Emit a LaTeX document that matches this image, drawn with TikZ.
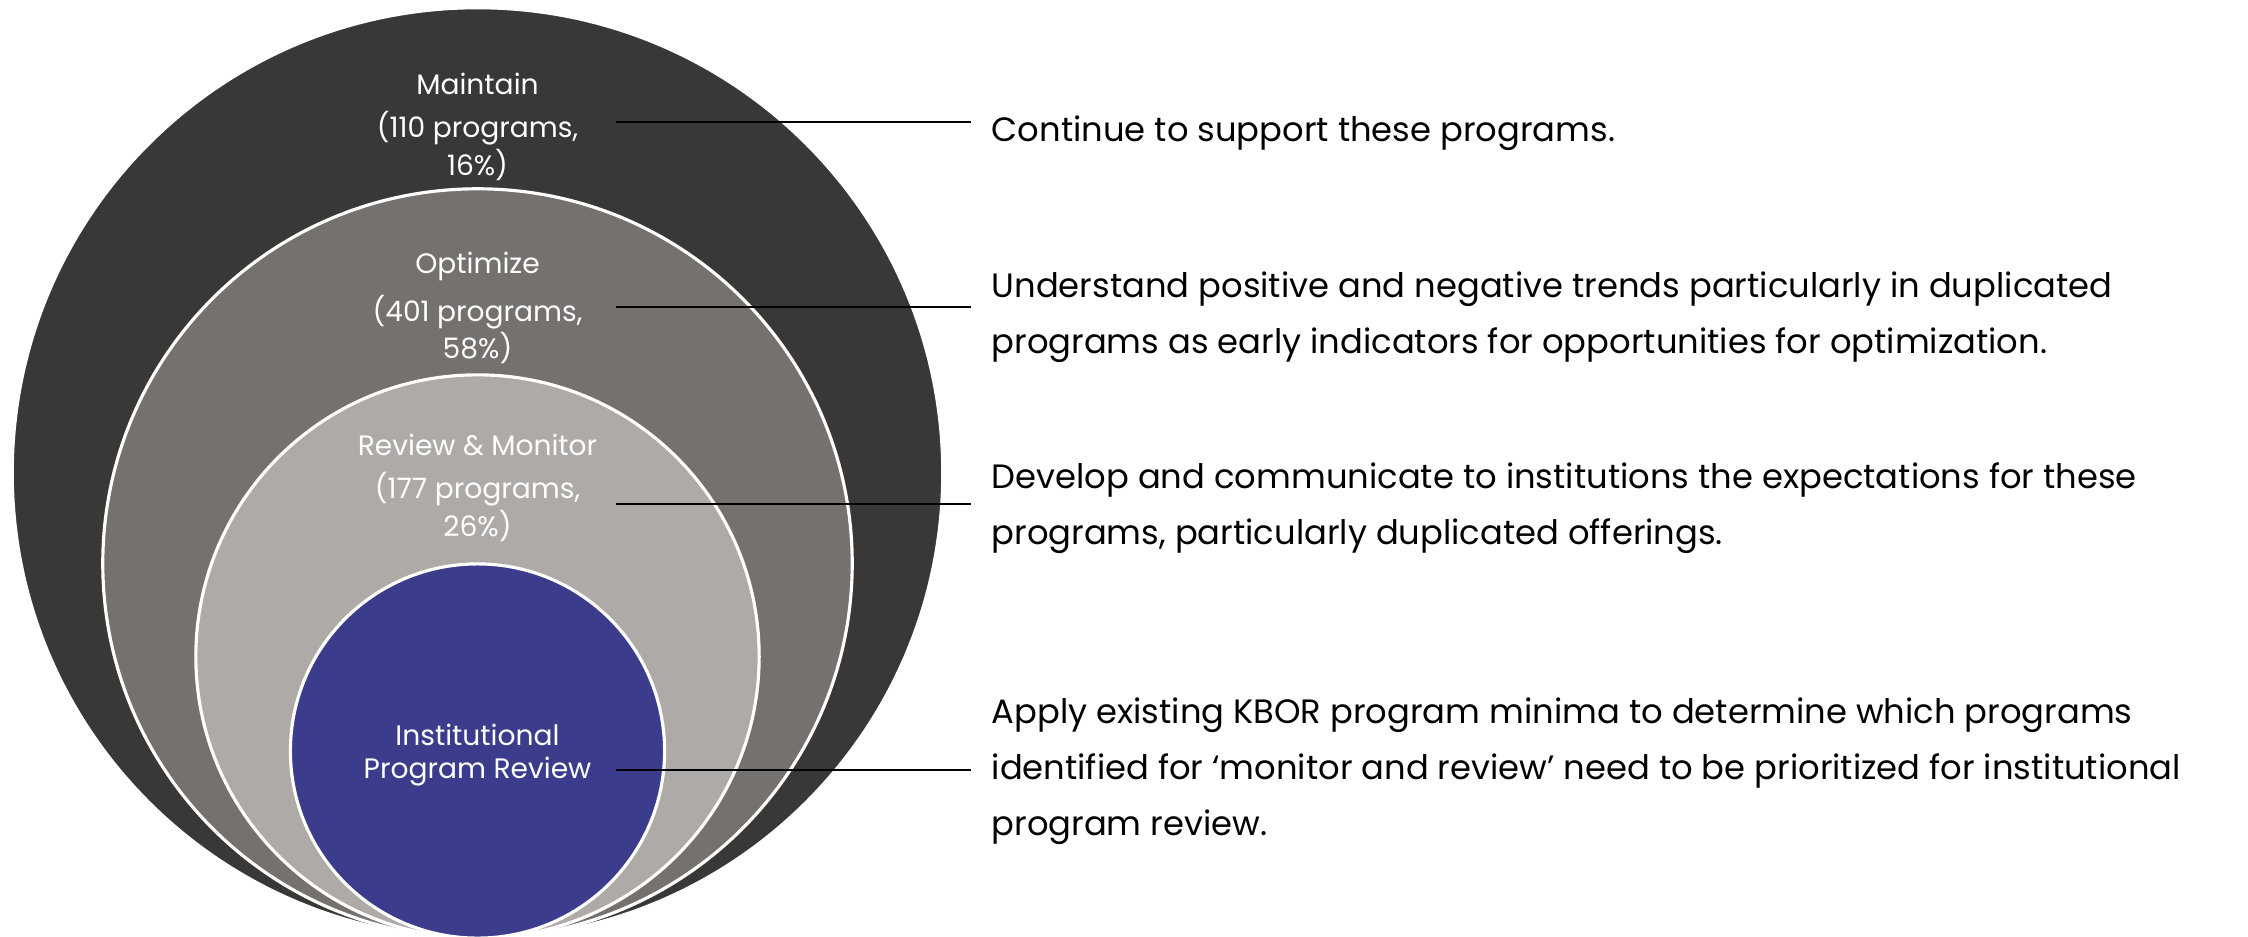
\documentclass[tikz,border=0pt]{standalone}
\usepackage{fontspec}
\setmainfont{Poppins}
\usetikzlibrary{positioning}
\definecolor{ringdark}{HTML}{3A3836}
\definecolor{ringmid}{HTML}{75716F}
\definecolor{ringlight}{HTML}{AEAAA8}
\definecolor{ringblue}{HTML}{3B3C8C}
\tikzstyle{ring} = [
    circle,
    draw=white,
    line width=0.9pt,
    inner sep=0pt
]
\tikzstyle{label} = [
    text=white,
    align=center,
    font=\fontsize{8}{9.2}\selectfont
]
\tikzstyle{desc} = [
    anchor=west,
    align=left,
    inner xsep=0.2cm,
    font=\fontsize{9.6}{15.9}\selectfont
]
\tikzstyle{link} = [draw=black, line width=0.5pt]

\begin{document}
\begin{tikzpicture}[x=0.01cm, y=-0.01cm]
\useasboundingbox (0,0) rectangle (2248,936);

% Circles
\node (maintain) [ring, fill=ringdark, minimum size=9.3cm] at (477.5,473) {};
\node (optimize) [ring, fill=ringmid, minimum size=7.49cm] at (477.5,563.5) {};
\node (review) [ring, fill=ringlight, minimum size=5.63cm] at (477.5,656.5) {};
\node (inst) [ring, fill=ringblue, minimum size=3.74cm] at (477.5,751) {};

% Labels
\node (lblmaintain) [label] at (477.5,127) {Maintain\\[3pt](110 programs,\\16\%)};
\node (lbloptimize) [label] at (477.5,308) {Optimize\\[3pt](401 programs,\\58\%)};
\node (lblreview) [label] at (477.5,488) {Review \& Monitor\\[3pt](177 programs,\\26\%)};
\node (lblinst) [label] at (477.5,755) {Institutional\\Program Review};

% Descriptions
\node (descmaintain) [desc] at (971,133) {Continue to support these programs.};
\node (descoptimize) [desc] at (971,317) {Understand positive and negative trends particularly in duplicated\\programs as early indicators for opportunities for optimization.};
\node (descreview) [desc] at (971,508) {Develop and communicate to institutions the expectations for these\\programs, particularly duplicated offerings.};
\node (descinst) [desc] at (971,771) {Apply existing KBOR program minima to determine which programs\\identified for ‘monitor and review’ need to be prioritized for institutional\\program review.};

% Lines
\coordinate (startmaintain) at (616,122);
\coordinate (startoptimize) at (616,307);
\coordinate (startreview) at (616,504);
\coordinate (startinst) at (616,770);
\draw [link] (startmaintain) -- (startmaintain -| descmaintain.west);
\draw [link] (startoptimize) -- (startoptimize -| descoptimize.west);
\draw [link] (startreview) -- (startreview -| descreview.west);
\draw [link] (startinst) -- (startinst -| descinst.west);

\end{tikzpicture}
\end{document}
